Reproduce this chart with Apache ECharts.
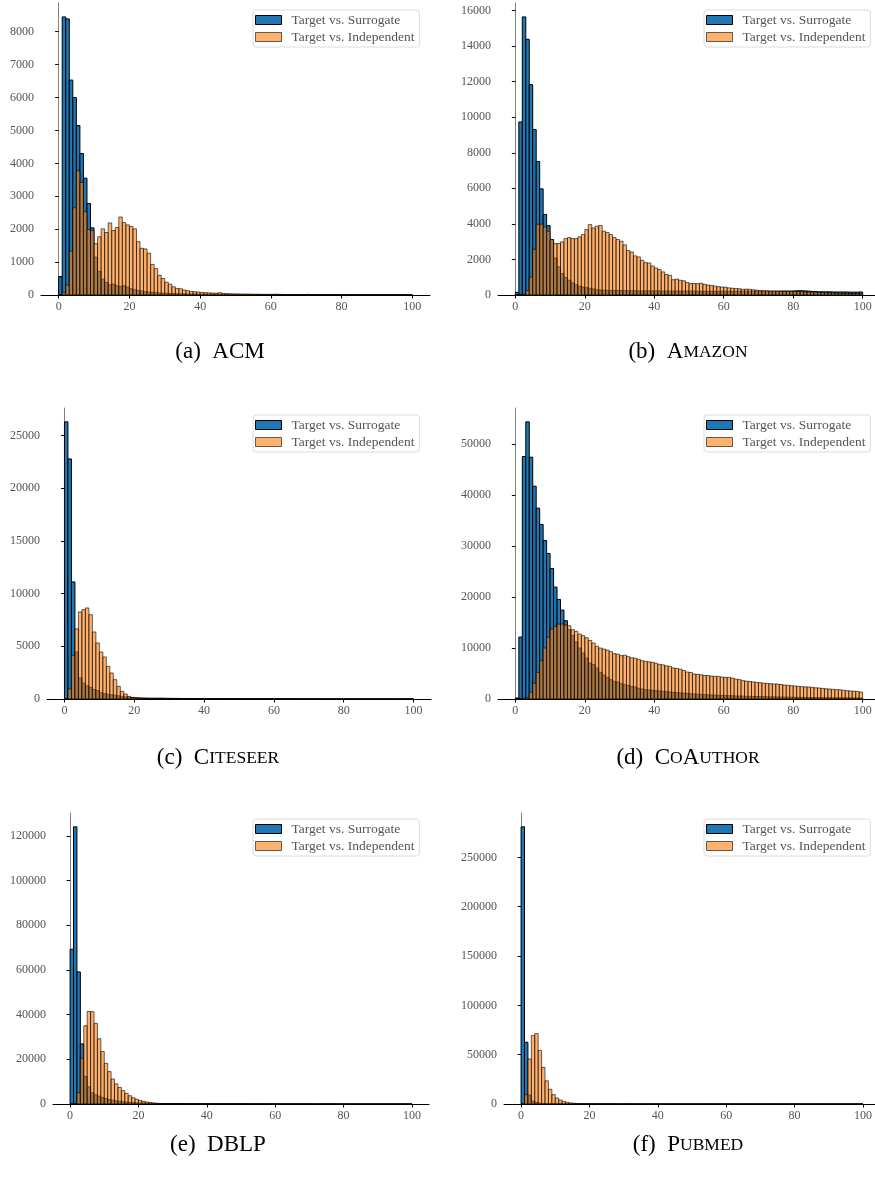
<!DOCTYPE html>
<html>
<head>
<meta charset="utf-8">
<script src="https://cdn.jsdelivr.net/npm/echarts@6/dist/echarts.min.js"></script>
<style>
html, body { margin: 0; padding: 0; background: #fff; }
#chart { width: 875px; height: 1184px; }
</style>
</head>
<body>
<div id="chart"></div>
<script>
// histogram bins: 100 bins of width 1 over [0, 100]
const binCount = 100;
const binWidth = 1;
const seriesNames = ['Target vs. Surrogate', 'Target vs. Independent'];
const xTicks = [0, 20, 40, 60, 80, 100];

// (a) ACM
const acmSurrogate = [
  560, 8450, 8390, 6530, 6000, 5150, 4300, 3550, 2780, 2040,
  1150, 720, 480, 380, 310, 330, 280, 260, 280, 240,
  190, 160, 140, 120, 100, 90, 80, 70, 60, 55,
  50, 45, 40, 40, 35, 35, 30, 30, 30, 25,
  25, 25, 20, 20, 20, 20, 20, 20, 15, 15,
  15, 15, 15, 15, 15, 10, 10, 10, 10, 10,
  10, 10, 10, 10, 8, 8, 8, 8, 8, 8,
  8, 6, 6, 6, 6, 6, 6, 5, 5, 5,
  5, 5, 5, 5, 5, 4, 4, 4, 4, 4,
  4, 4, 4, 3, 3, 3, 3, 3, 3, 3
];
const acmIndependent = [
  0, 80, 300, 1330, 2650, 3770, 3420, 2530, 1990, 1960,
  1560, 1770, 2010, 1900, 2190, 1960, 2050, 2370, 2200, 2130,
  2080, 2010, 1620, 1420, 1400, 1270, 930, 800, 600, 500,
  390, 330, 250, 200, 190, 150, 130, 110, 100, 90,
  80, 70, 65, 60, 55, 70, 50, 40, 40, 35,
  35, 30, 30, 30, 25, 25, 25, 20, 20, 20,
  20, 25, 20, 15, 15, 15, 15, 15, 15, 12,
  20, 12, 12, 10, 10, 10, 15, 10, 10, 10,
  15, 10, 8, 8, 10, 8, 8, 8, 8, 8,
  8, 6, 6, 6, 6, 6, 5, 5, 5, 5
];
const acmTicks = [0, 1000, 2000, 3000, 4000, 5000, 6000, 7000, 8000];

// (b) Amazon
const amazonSurrogate = [
  150, 9730, 15640, 14380, 11830, 9310, 7510, 5970, 4530, 3900,
  3120, 2080, 1580, 1200, 980, 830, 680, 580, 490, 450,
  410, 380, 340, 300, 280, 270, 260, 260, 250, 250,
  250, 240, 240, 240, 240, 230, 230, 230, 230, 230,
  230, 230, 220, 220, 220, 220, 220, 220, 220, 220,
  220, 220, 210, 210, 210, 210, 210, 210, 210, 210,
  210, 210, 210, 210, 210, 210, 210, 210, 210, 210,
  210, 210, 210, 210, 210, 210, 220, 220, 220, 220,
  230, 240, 240, 230, 220, 200, 190, 180, 180, 180,
  180, 170, 170, 170, 170, 170, 160, 160, 160, 170
];
const amazonIndependent = [
  0, 0, 30, 250, 1010, 2570, 3980, 3980, 3830, 3590,
  3120, 2890, 2890, 2990, 3170, 3230, 3170, 3170, 3270, 3400,
  3680, 3960, 3770, 3870, 3910, 3590, 3510, 3400, 3230, 3120,
  3020, 2820, 2500, 2420, 2200, 2140, 1950, 1820, 1800, 1630,
  1520, 1430, 1300, 1150, 1110, 860, 900, 830, 800, 700,
  640, 650, 640, 660, 600, 560, 540, 500, 470, 450,
  440, 400, 380, 370, 350, 320, 330, 320, 290, 270,
  250, 240, 230, 220, 225, 215, 210, 205, 210, 200,
  200, 190, 180, 170, 160, 160, 150, 140, 130, 120,
  115, 110, 100, 95, 90, 85, 80, 80, 75, 70
];
const amazonTicks = [0, 2000, 4000, 6000, 8000, 10000, 12000, 14000, 16000];

// (c) Citeseer
const citeseerSurrogate = [
  26300, 22780, 11110, 4460, 2000, 1500, 1250, 1100, 900, 800,
  600, 500, 450, 400, 350, 300, 250, 200, 160, 130,
  110, 100, 90, 85, 80, 80, 75, 80, 70, 65,
  60, 55, 55, 50, 50, 45, 45, 40, 40, 40,
  35, 35, 30, 30, 30, 30, 25, 25, 25, 25,
  20, 20, 20, 20, 20, 20, 15, 15, 15, 15,
  15, 15, 12, 12, 12, 12, 10, 10, 10, 10,
  10, 10, 10, 8, 8, 8, 8, 8, 8, 8,
  6, 6, 6, 6, 6, 6, 5, 5, 5, 5,
  5, 5, 5, 4, 4, 4, 4, 4, 4, 4
];
const citeseerIndependent = [
  0, 950, 4150, 6650, 8260, 8480, 8640, 8000, 6360, 5320,
  4460, 3990, 3100, 2470, 1835, 1200, 730, 475, 250, 150,
  100, 80, 60, 50, 40, 35, 30, 25, 20, 20,
  15, 15, 12, 12, 10, 10, 8, 8, 8, 6,
  6, 5, 5, 5, 4, 4, 4, 3, 3, 3,
  3, 3, 2, 2, 2, 2, 2, 2, 2, 1,
  1, 1, 1, 1, 1, 1, 1, 1, 1, 1,
  1, 1, 1, 0, 0, 0, 0, 0, 0, 0,
  0, 0, 0, 0, 0, 0, 0, 0, 0, 0,
  0, 0, 0, 0, 0, 0, 0, 0, 0, 0
];
const citeseerTicks = [0, 5000, 10000, 15000, 20000, 25000];

// (d) CoAuthor
const coauthorSurrogate = [
  200, 12160, 47580, 54380, 47450, 41760, 37450, 34250, 31100, 28560,
  25620, 21960, 19540, 17450, 15360, 13600, 12480, 11180, 10000, 9020,
  8040, 7060, 6730, 6080, 5230, 4710, 4250, 3790, 3460, 3330,
  3000, 2810, 2680, 2480, 2350, 2090, 1960, 1830, 1760, 1700,
  1630, 1570, 1500, 1440, 1370, 1300, 1240, 1200, 1150, 1100,
  1040, 980, 940, 900, 860, 820, 790, 760, 730, 700,
  670, 650, 630, 600, 580, 560, 540, 520, 500, 480,
  460, 450, 430, 420, 400, 390, 380, 360, 350, 340,
  330, 320, 310, 300, 290, 280, 270, 265, 260, 250,
  245, 240, 235, 230, 225, 220, 215, 210, 205, 200
];
const coauthorIndependent = [
  0, 0, 30, 260, 1310, 3070, 5230, 7520, 10000, 12090,
  13730, 14250, 14700, 14700, 14510, 14380, 13600, 13270, 12750, 12420,
  12030, 11500, 10980, 10330, 10000, 9800, 9600, 9300, 8890, 8800,
  8500, 8600, 8300, 8100, 8000, 7800, 7500, 7400, 7300, 7200,
  7000, 6800, 6700, 6500, 6400, 6100, 6000, 5850, 5600, 5300,
  5200, 4900, 4850, 4750, 4600, 4600, 4500, 4450, 4440, 4300,
  4250, 4250, 4100, 3900, 3800, 3600, 3500, 3450, 3350, 3270,
  3200, 3100, 3070, 3000, 2950, 2940, 2850, 2750, 2680, 2600,
  2550, 2480, 2420, 2380, 2350, 2280, 2200, 2160, 2080, 2000,
  1960, 1900, 1850, 1800, 1720, 1630, 1580, 1530, 1480, 1370
];
const coauthorTicks = [0, 10000, 20000, 30000, 40000, 50000];

// (e) DBLP
const dblpSurrogate = [
  69250, 124000, 59100, 26870, 12300, 7700, 5000, 4100, 3500, 2900,
  2400, 2000, 1700, 1400, 1200, 1000, 850, 700, 600, 500,
  450, 400, 350, 300, 270, 240, 210, 190, 170, 150,
  140, 130, 120, 110, 100, 95, 90, 85, 80, 75,
  70, 68, 65, 62, 60, 58, 55, 52, 50, 48,
  46, 44, 42, 40, 38, 36, 35, 34, 32, 30,
  29, 28, 27, 26, 25, 24, 23, 22, 21, 20,
  20, 19, 18, 18, 17, 16, 16, 15, 15, 14,
  14, 13, 13, 12, 12, 12, 11, 11, 11, 10,
  10, 10, 10, 9, 9, 9, 9, 8, 8, 8
];
const dblpIndependent = [
  0, 0, 5000, 20400, 35000, 41400, 41300, 36100, 29200, 23500,
  18200, 14500, 11200, 9000, 7400, 6000, 4800, 3700, 2800, 2100,
  1600, 1200, 900, 650, 450, 320, 230, 170, 120, 90,
  70, 50, 40, 30, 25, 20, 16, 13, 10, 8,
  7, 6, 5, 4, 4, 3, 3, 2, 2, 2,
  2, 2, 1, 1, 1, 1, 1, 1, 1, 1,
  1, 1, 1, 1, 0, 0, 0, 0, 0, 0,
  0, 0, 0, 0, 0, 0, 0, 0, 0, 0,
  0, 0, 0, 0, 0, 0, 0, 0, 0, 0,
  0, 0, 0, 0, 0, 0, 0, 0, 0, 0
];
const dblpTicks = [0, 20000, 40000, 60000, 80000, 100000, 120000];

// (f) Pubmed
const pubmedSurrogate = [
  281000, 62600, 9000, 3000, 1500, 800, 500, 350, 250, 200,
  150, 120, 100, 90, 80, 70, 60, 55, 50, 45,
  40, 38, 35, 32, 30, 28, 26, 24, 22, 20,
  19, 18, 17, 16, 15, 14, 13, 12, 12, 11,
  11, 10, 10, 9, 9, 9, 8, 8, 8, 7,
  7, 7, 7, 6, 6, 6, 6, 5, 5, 5,
  5, 5, 5, 4, 4, 4, 4, 4, 4, 4,
  3, 3, 3, 3, 3, 3, 3, 3, 3, 3,
  2, 2, 2, 2, 2, 2, 2, 2, 2, 2,
  2, 2, 2, 2, 2, 2, 2, 2, 2, 2
];
const pubmedIndependent = [
  0, 9500, 45600, 69400, 71400, 54400, 37100, 23500, 15000, 9500,
  6100, 4100, 2600, 1700, 1100, 750, 500, 350, 250, 180,
  130, 100, 75, 55, 40, 30, 22, 16, 12, 9,
  7, 5, 4, 3, 3, 2, 2, 1, 1, 1,
  1, 1, 1, 0, 0, 0, 0, 0, 0, 0,
  0, 0, 0, 0, 0, 0, 0, 0, 0, 0,
  0, 0, 0, 0, 0, 0, 0, 0, 0, 0,
  0, 0, 0, 0, 0, 0, 0, 0, 0, 0,
  0, 0, 0, 0, 0, 0, 0, 0, 0, 0,
  0, 0, 0, 0, 0, 0, 0, 0, 0, 0
];
const pubmedTicks = [0, 50000, 100000, 150000, 200000, 250000];

// caption pieces: [letter, big, small, big, small ...] (small caps emulated)
const captions = [
  ['(a)', 'ACM'],
  ['(b)', 'A', 'MAZON'],
  ['(c)', 'C', 'ITESEER'],
  ['(d)', 'C', 'O', 'A', 'UTHOR'],
  ['(e)', 'DBLP'],
  ['(f)', 'P', 'UBMED']
];

const panels = [
  { s: acmSurrogate, i: acmIndependent, ticks: acmTicks },
  { s: amazonSurrogate, i: amazonIndependent, ticks: amazonTicks },
  { s: citeseerSurrogate, i: citeseerIndependent, ticks: citeseerTicks },
  { s: coauthorSurrogate, i: coauthorIndependent, ticks: coauthorTicks },
  { s: dblpSurrogate, i: dblpIndependent, ticks: dblpTicks },
  { s: pubmedSurrogate, i: pubmedIndependent, ticks: pubmedTicks }
];

// page layout (pixels)
const layout = [
  { grid: { left: 41, top: 3, width: 389, height: 292 }, legend: { left: 253, top: 10 }, cap: [220, 352] },
  { grid: { left: 498, top: 3, width: 382, height: 292 }, legend: { left: 704, top: 10 }, cap: [688, 352] },
  { grid: { left: 47, top: 408, width: 384, height: 291 }, legend: { left: 253, top: 415 }, cap: [218, 758] },
  { grid: { left: 498, top: 408, width: 382, height: 291 }, legend: { left: 704, top: 415 }, cap: [688, 758] },
  { grid: { left: 53, top: 813, width: 376, height: 291 }, legend: { left: 253, top: 819 }, cap: [218, 1145] },
  { grid: { left: 504, top: 813, width: 376, height: 291 }, legend: { left: 704, top: 819 }, cap: [688, 1145] }
];

const serif = "'Liberation Serif', 'DejaVu Serif', serif";
const blueFill = '#1f77b4';
const orangeFill = 'rgba(255,127,14,0.6)';
const orangeEdge = 'rgba(0,0,0,0.6)';

function toBins(values) {
  return values.map((v, k) => [k * binWidth, (k + 1) * binWidth, v]);
}

function renderBin(fill, stroke) {
  return function (params, api) {
    const top = api.coord([api.value(0), api.value(2)]);
    const base = api.coord([api.value(1), 0]);
    return {
      type: 'rect',
      shape: { x: top[0], y: top[1], width: base[0] - top[0], height: base[1] - top[1] },
      style: { fill: fill, stroke: stroke, lineWidth: 1 }
    };
  };
}

const grids = [], xAxes = [], yAxes = [], series = [], legends = [], graphics = [];

panels.forEach((p, idx) => {
  const L = layout[idx];
  grids.push(Object.assign({ containLabel: false, outerBoundsMode: 'none' }, L.grid));
  xAxes.push({
    type: 'value', gridIndex: idx, min: -5, max: 105,
    splitLine: { show: false },
    axisLine: { show: true, onZero: false, lineStyle: { color: '#000', width: 1 } },
    axisTick: { show: true, length: 3.5, customValues: xTicks, lineStyle: { color: '#000' } },
    axisLabel: { customValues: xTicks, margin: 6, color: '#555', fontFamily: serif, fontSize: 12,
      formatter: v => String(v) }
  });
  const ymax = Math.max(Math.max(...p.s), Math.max(...p.i)) * 1.05;
  yAxes.push({
    type: 'value', gridIndex: idx, min: 0, max: ymax,
    splitLine: { show: false },
    axisLine: { show: true, lineStyle: { color: '#808080', width: 1 } },
    axisTick: { show: true, length: 3.5, customValues: p.ticks, lineStyle: { color: '#000' } },
    axisLabel: { customValues: p.ticks, margin: 7, color: '#555', fontFamily: serif, fontSize: 12,
      formatter: v => String(v) }
  });
  series.push({
    type: 'custom', name: seriesNames[0], xAxisIndex: idx, yAxisIndex: idx,
    data: toBins(p.s), encode: { x: [0, 1], y: 2 }, clip: true,
    itemStyle: { color: blueFill, borderColor: '#000', borderWidth: 1 },
    renderItem: renderBin(blueFill, '#000')
  });
  series.push({
    type: 'custom', name: seriesNames[1], xAxisIndex: idx, yAxisIndex: idx,
    data: toBins(p.i), encode: { x: [0, 1], y: 2 }, clip: true,
    itemStyle: { color: orangeFill, borderColor: orangeEdge, borderWidth: 1 },
    renderItem: renderBin(orangeFill, orangeEdge)
  });
  legends.push({
    left: L.legend.left, top: L.legend.top, orient: 'vertical',
    itemWidth: 26, itemHeight: 9, itemGap: 3,
    padding: [3, 5, 3, 2],
    borderColor: '#dcdcdc', borderWidth: 1, borderRadius: 3, backgroundColor: '#fff',
    selectedMode: false,
    textStyle: { fontFamily: serif, fontSize: 13.5, color: '#555', padding: [0, 0, 0, 5] },
    data: [
      { name: seriesNames[0], icon: 'rect', itemStyle: { color: blueFill, borderColor: '#000', borderWidth: 1 } },
      { name: seriesNames[1], icon: 'rect', itemStyle: { color: orangeFill, borderColor: orangeEdge, borderWidth: 1 } }
    ]
  });
  const c = captions[idx];
  let txt = '{n|' + c[0] + '  }';
  for (let k = 1; k < c.length; k++) txt += (k % 2 === 1 ? '{n|' : '{s|') + c[k] + '}';
  graphics.push({
    type: 'text', x: L.cap[0], y: L.cap[1],
    style: {
      text: txt, align: 'center', verticalAlign: 'middle',
      rich: {
        n: { fontFamily: serif, fontSize: 23, fill: '#000', color: '#000' },
        s: { fontFamily: serif, fontSize: 17.5, fill: '#000', color: '#000' }
      }
    }
  });
});

const chart = echarts.init(document.getElementById('chart'));
chart.setOption({
  animation: false,
  backgroundColor: '#fff',
  grid: grids,
  xAxis: xAxes,
  yAxis: yAxes,
  legend: legends,
  series: series,
  graphic: graphics
});
</script>
</body>
</html>
